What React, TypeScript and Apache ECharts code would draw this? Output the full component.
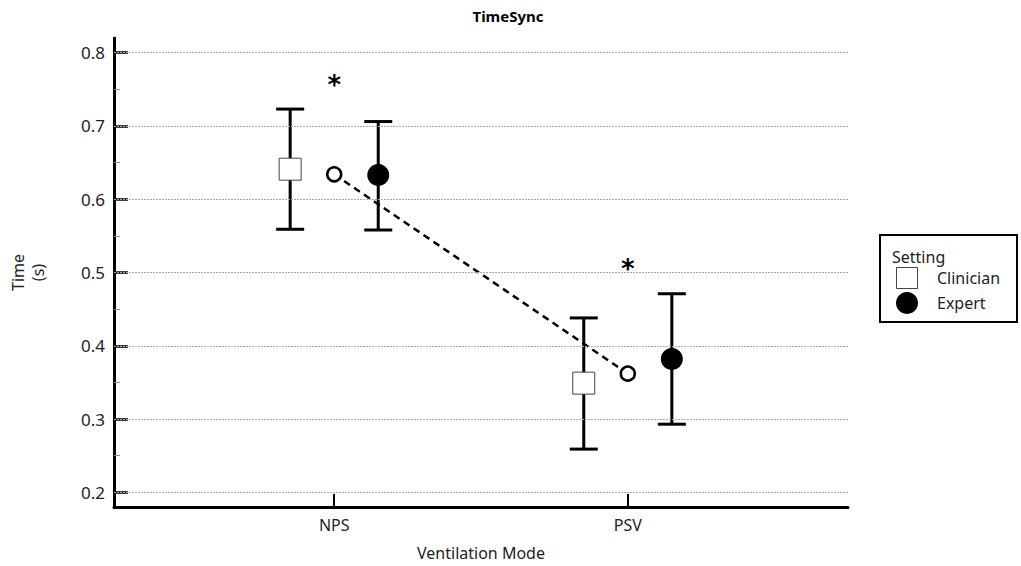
import React, { useEffect, useRef } from "react";
import * as echarts from "echarts";

const categories = ["NPS", "PSV"];
const categoryPos = [1, 2];
const clinicianMean = [0.641, 0.349];
const clinicianLow = [0.559, 0.259];
const clinicianHigh = [0.723, 0.438];
const expertMean = [0.633, 0.382];
const expertLow = [0.558, 0.293];
const expertHigh = [0.706, 0.471];
const overallMean = [0.634, 0.362];
const significanceY = [0.763, 0.511];
const yMajorTicks = [0.2, 0.3, 0.4, 0.5, 0.6, 0.7, 0.8];
const yMinorTicks = [0.25, 0.35, 0.45, 0.55, 0.65, 0.75];
const groupOffset = 0.15;

const FONT = "Noto Sans";

export default function App() {
  const ref = useRef<HTMLDivElement>(null);
  useEffect(() => {
    if (!ref.current) return;
    const chart = echarts.init(ref.current, null, { renderer: "svg" });
    const clin = categoryPos.map((c, i) => [c - groupOffset, clinicianMean[i]]);
    const exp = categoryPos.map((c, i) => [c + groupOffset, expertMean[i]]);
    const bars = [
      ...categoryPos.map((c, i) => [c - groupOffset, clinicianLow[i], clinicianHigh[i]]),
      ...categoryPos.map((c, i) => [c + groupOffset, expertLow[i], expertHigh[i]]),
    ];
    const means = categoryPos.map((c, i) => [c, overallMean[i]]);
    const stars = categoryPos.map((c, i) => [c, significanceY[i]]);
    const cap = 14;
    const option: any = {
      animation: false,
      textStyle: { fontFamily: FONT },
      title: {
        text: "TimeSync",
        left: 503,
        textAlign: "center",
        top: 3,
        textStyle: { fontFamily: FONT, fontSize: 15, fontWeight: "bold", color: "#000" },
      },
      grid: { left: 112, right: 173, top: 38, bottom: 59 },
      xAxis: {
        type: "value",
        min: 0.25,
        max: 2.75,
        name: "Ventilation Mode",
        nameLocation: "middle",
        nameGap: 38,
        nameTextStyle: { fontFamily: FONT, fontSize: 16, color: "#222" },
        axisLine: { show: true, onZero: false, lineStyle: { color: "#000", width: 3 } },
        axisTick: { show: true, inside: true, length: 13, customValues: categoryPos, lineStyle: { color: "#000", width: 2 } },
        axisLabel: {
          customValues: categoryPos,
          formatter: (v: number) => categories[categoryPos.indexOf(v)] ?? "",
          fontFamily: FONT,
          fontSize: 16,
          color: "#222",
          margin: 10,
        },
        splitLine: { show: false },
      },
      yAxis: [
        {
          type: "value",
          min: 0.18,
          max: 0.82,
          name: "Time\n(s)",
          nameLocation: "middle",
          nameRotate: 90,
          nameGap: 66,
          nameTextStyle: { fontFamily: FONT, fontSize: 16, color: "#222", lineHeight: 20 },
          axisLine: { show: true, onZero: false, lineStyle: { color: "#000", width: 3 } },
          axisTick: { show: true, inside: true, length: 14, customValues: yMajorTicks, lineStyle: { color: "#000", width: 2.5 } },
          axisLabel: {
            customValues: yMajorTicks,
            formatter: (v: number) => v.toFixed(1),
            fontFamily: FONT,
            fontSize: 17,
            color: "#222",
            margin: 9,
          },
          splitLine: { show: false },
        },
        {
          type: "value",
          min: 0.18,
          max: 0.82,
          position: "left",
          axisLine: { show: false },
          axisTick: { show: true, inside: true, length: 6, customValues: yMinorTicks, lineStyle: { color: "#888", width: 1 } },
          axisLabel: { show: false },
          splitLine: { show: false },
        },
      ],
      series: [
        {
          type: "line",
          data: [],
          silent: true,
          markLine: {
            silent: true,
            symbol: "none",
            label: { show: false },
            lineStyle: { color: "#aaa", width: 1, type: [2, 1] },
            data: yMajorTicks.map((v) => ({ yAxis: v })),
          },
        },
        {
          type: "custom",
          data: bars,
          encode: { x: 0, y: [1, 2] },
          z: 2,
          renderItem: (params: any, api: any) => {
            const x = api.value(0);
            const pLo = api.coord([x, api.value(1)]);
            const pHi = api.coord([x, api.value(2)]);
            const st = { stroke: "#000", lineWidth: 3 };
            return {
              type: "group",
              children: [
                { type: "line", shape: { x1: pLo[0], y1: pLo[1], x2: pHi[0], y2: pHi[1] }, style: st },
                { type: "line", shape: { x1: pLo[0] - cap, y1: pLo[1], x2: pLo[0] + cap, y2: pLo[1] }, style: st },
                { type: "line", shape: { x1: pHi[0] - cap, y1: pHi[1], x2: pHi[0] + cap, y2: pHi[1] }, style: st },
              ],
            };
          },
        },
        {
          name: "Mean",
          type: "line",
          data: means,
          z: 3,
          symbol: "circle",
          symbolSize: 14,
          showAllSymbol: true,
          lineStyle: { color: "#000", width: 2.5, type: [7, 5] },
          itemStyle: { color: "#fff", borderColor: "#000", borderWidth: 2.5, opacity: 1 },
        },
        {
          name: "Clinician",
          type: "scatter",
          data: clin,
          z: 4,
          symbol: "rect",
          symbolSize: 22,
          itemStyle: { color: "#fff", borderColor: "#444", borderWidth: 1, opacity: 1 },
        },
        {
          name: "Expert",
          type: "scatter",
          data: exp,
          z: 4,
          symbol: "circle",
          symbolSize: 22,
          itemStyle: { color: "#000", opacity: 1 },
        },
        {
          type: "custom",
          data: stars,
          encode: { x: 0, y: 1 },
          z: 5,
          renderItem: (params: any, api: any) => {
            const p = api.coord([api.value(0), api.value(1)]);
            return {
              type: "text",
              x: p[0],
              y: p[1] + 5,
              style: { text: "*", fontFamily: "DejaVu Sans", fontSize: 26, fontWeight: "bold", fill: "#000", align: "center", verticalAlign: "middle" },
            };
          },
        },
      ],
      graphic: [
        { type: "rect", shape: { x: 880, y: 235, width: 137, height: 87 }, style: { fill: "#fff", stroke: "#000", lineWidth: 2 } },
        { type: "text", x: 892, y: 257, style: { text: "Setting", fontFamily: FONT, fontSize: 16, fill: "#222", verticalAlign: "middle" } },
        { type: "rect", shape: { x: 896.5, y: 267.5, width: 21, height: 21 }, style: { fill: "#fff", stroke: "#444", lineWidth: 1 } },
        { type: "text", x: 937, y: 278, style: { text: "Clinician", fontFamily: FONT, fontSize: 16, fill: "#222", verticalAlign: "middle" } },
        { type: "circle", shape: { cx: 907, cy: 303, r: 11 }, style: { fill: "#000" } },
        { type: "text", x: 937, y: 303, style: { text: "Expert", fontFamily: FONT, fontSize: 16, fill: "#222", verticalAlign: "middle" } },
      ],
    };
    chart.setOption(option);
    return () => chart.dispose();
  }, []);
  return <div ref={ref} style={{ position: "fixed", left: 0, top: 0, width: 1021, height: 566, background: "#fff" }} />;
}
